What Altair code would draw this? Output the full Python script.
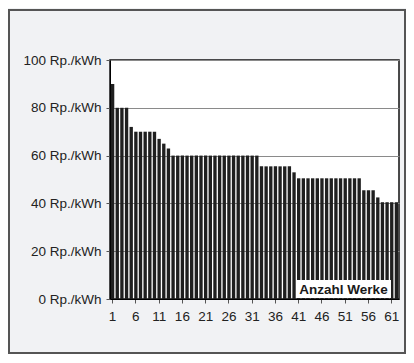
import altair as alt
import pandas as pd

werk = list(range(1, 63))
tarif = ([90] + [80] * 3 + [72] + [70] * 5 + [67, 65, 63] + [60] * 19 +
         [55.5] * 7 + [53] + [50.5] * 14 + [45.5] * 3 + [42.5] + [40.5] * 4)
x_labels = [1, 6, 11, 16, 21, 26, 31, 36, 41, 46, 51, 56, 61]
y_ticks = [0, 20, 40, 60, 80, 100]
legend_text = ["Anzahl Werke"]

df = pd.DataFrame({"werk": werk, "tarif": tarif})

W, H = 289, 239
FONT = "Liberation Sans"

bars = alt.Chart(df).mark_bar(color="#1f1f1f").encode(
    x=alt.X("werk:O", title=None,
            scale=alt.Scale(paddingInner=0.28, paddingOuter=0.2),
            axis=alt.Axis(values=x_labels, labelAngle=0, tickSize=4,
                          labelPadding=6, labelFontSize=13.5, labelFont=FONT,
                          labelColor="#222", domainColor="#000",
                          tickColor="#555", grid=False)),
    y=alt.Y("tarif:Q", title=None,
            scale=alt.Scale(domain=[0, 100]),
            axis=alt.Axis(values=y_ticks, labelExpr="datum.value + ' Rp./kWh'",
                          tickSize=4, labelPadding=5, labelFontSize=13.5,
                          labelFont=FONT, labelColor="#222",
                          domainColor="#000", tickColor="#555",
                          grid=True, gridColor="#8a8a8a", gridWidth=1)),
)

box = alt.Chart(pd.DataFrame({"t": legend_text})).mark_rect(
    fill="white").encode(
    x=alt.value(186), x2=alt.value(281), y=alt.value(220), y2=alt.value(238))

label = alt.Chart(pd.DataFrame({"t": legend_text})).mark_text(
    font=FONT, fontSize=13.5, fontWeight="bold", color="#1a1a1a",
    align="center", baseline="middle").encode(
    text="t:N", x=alt.value(233.5), y=alt.value(229.5))

frame = alt.Chart(pd.DataFrame({"t": legend_text})).mark_rect(
    fill=None, stroke="#555", strokeWidth=2, clip=False).encode(
    x=alt.value(-101), x2=alt.value(295), y=alt.value(-50), y2=alt.value(293))

chart = alt.layer(bars, box, label, frame).properties(
    width=W, height=H,
    background="#f1f2f4",
    padding={"left": 102, "top": 52, "right": 7, "bottom": 55},
    autosize=alt.AutoSizeParams(type="none"),
).configure_view(stroke="#111", strokeWidth=1.5, fill="white")

chart.save("out.html", embed_options={"renderer": "svg", "actions": False})
